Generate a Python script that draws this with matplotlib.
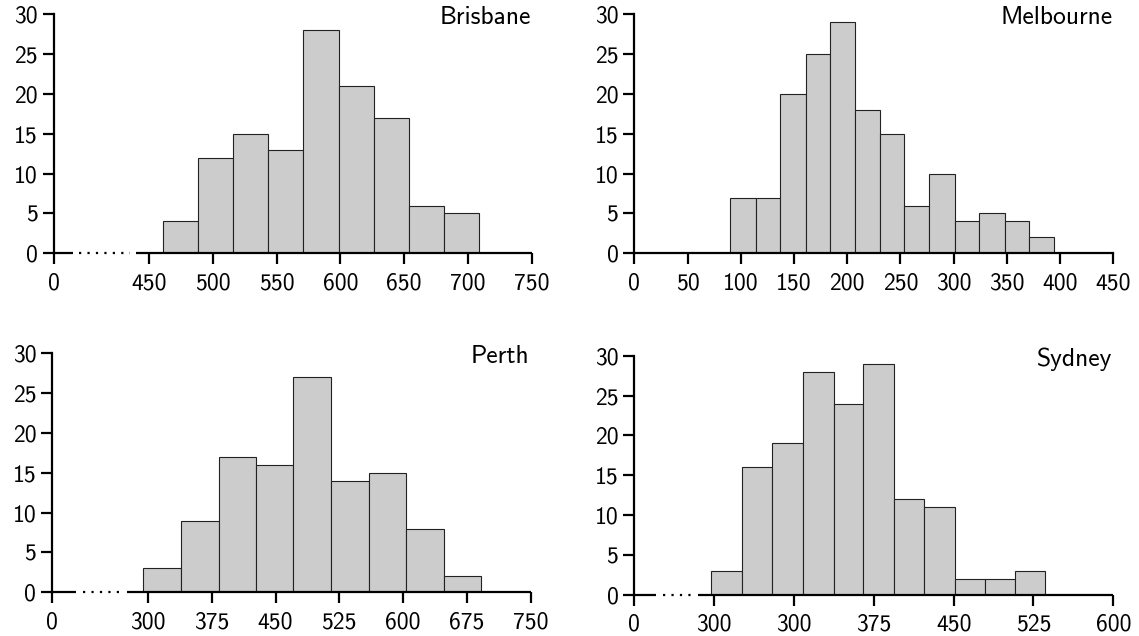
import matplotlib
matplotlib.use("Agg")
import matplotlib.pyplot as plt
import numpy as np

plt.rcParams['font.family'] = ['cmss10', 'DejaVu Sans']
plt.rcParams['axes.unicode_minus'] = False

# ---- data ----
brisbane_edges = [461.2, 488.1, 516.1, 543.3, 571.0, 598.5, 626.2, 653.4, 681.1, 708.3]
brisbane_counts = [4, 12, 15, 13, 28, 21, 17, 6, 5]
brisbane_ticks = [375, 450, 500, 550, 600, 650, 700, 750]
brisbane_labels = ['0', '450', '500', '550', '600', '650', '700', '750']

melbourne_edges = [90.1, 113.9, 136.8, 161.0, 183.5, 207.0, 230.9, 253.8, 277.0,
                   300.9, 323.7, 348.0, 370.8, 394.0]
melbourne_counts = [7, 7, 20, 25, 29, 18, 15, 6, 10, 4, 5, 4, 2]
melbourne_ticks = [0, 50, 100, 150, 200, 250, 300, 350, 400, 450]
melbourne_labels = ['0', '50', '100', '150', '200', '250', '300', '350', '400', '450']

perth_edges = [294.4, 339.2, 383.3, 426.9, 471.0, 515.0, 559.5, 603.6, 647.7, 691.8]
perth_counts = [3, 9, 17, 16, 27, 14, 15, 8, 2]
perth_ticks = [187.5, 300, 375, 450, 525, 600, 675, 750]
perth_labels = ['0', '300', '375', '450', '525', '600', '675', '750']

sydney_edges = [222.2, 250.8, 279.1, 308.2, 337.5, 364.8, 394.1, 422.1, 450.8,
                479.0, 508.0, 535.9]
sydney_counts = [3, 16, 19, 28, 24, 29, 12, 11, 2, 2, 3]
sydney_ticks = [150, 225, 300, 375, 450, 525, 600]
sydney_labels = ['0', '300', '300', '375', '450', '525', '600']

y_ticks = [0, 5, 10, 15, 20, 25, 30]

# ---- layout ----
W, H = 1139, 636
fig = plt.figure(figsize=(W / 100, H / 100), dpi=100)

def frac_rect(left, right, y0, y30):
    return [left / W, 1 - y0 / H, (right - left) / W, (y0 - y30) / H]

panels = [
    dict(name='Brisbane', edges=brisbane_edges, counts=brisbane_counts,
         ticks=brisbane_ticks, labels=brisbane_labels,
         rect=frac_rect(53.6, 531.7, 253.3, 14.3), brk=(0.041, 0.054, 0.160, 0.172)),
    dict(name='Melbourne', edges=melbourne_edges, counts=melbourne_counts,
         ticks=melbourne_ticks, labels=melbourne_labels,
         rect=frac_rect(634.4, 1113.3, 253.3, 14.3), brk=None),
    dict(name='Perth', edges=perth_edges, counts=perth_counts,
         ticks=perth_ticks, labels=perth_labels,
         rect=frac_rect(52.3, 530.7, 592.3, 353.3), brk=(0.0495, 0.065, 0.145, 0.1555)),
    dict(name='Sydney', edges=sydney_edges, counts=sydney_counts,
         ticks=sydney_ticks, labels=sydney_labels,
         rect=frac_rect(634.4, 1113.3, 595.0, 355.7), brk=(0.045, 0.059, 0.119, 0.132)),
]

LW = 1.6
for p in panels:
    ax = fig.add_axes(p['rect'])
    edges = np.array(p['edges'])
    ax.bar(edges[:-1], p['counts'], width=np.diff(edges), align='edge',
           color='#cccccc', edgecolor='#222222', linewidth=0.8, zorder=1)
    ax.set_xlim(p['ticks'][0], p['ticks'][-1])
    ax.set_ylim(0, 30)
    ax.set_xticks(p['ticks'])
    ax.set_xticklabels(p['labels'])
    ax.set_yticks(y_ticks)
    ax.set_yticklabels([str(v) for v in y_ticks])
    for s in ['top', 'right']:
        ax.spines[s].set_visible(False)
    ax.spines['left'].set_linewidth(LW)
    ax.spines['bottom'].set_linewidth(LW)
    ax.tick_params(axis='both', which='major', direction='out', length=8,
                   width=LW, labelsize=17, color='black')
    ax.tick_params(axis='x', pad=5.5)
    ax.tick_params(axis='y', pad=3.5)
    if p['brk'] is not None:
        a, b, c, d = p['brk']
        ax.spines['bottom'].set_visible(False)
        ax.plot([0, a], [0, 0], color='black', lw=LW, transform=ax.transAxes,
                clip_on=False, solid_capstyle='butt', zorder=3)
        ax.plot([b, c], [0, 0], color='black', lw=LW, transform=ax.transAxes,
                clip_on=False, linestyle=(0, (1, 2.8)), dash_capstyle='butt', zorder=3)
        ax.plot([d, 1], [0, 0], color='black', lw=LW, transform=ax.transAxes,
                clip_on=False, solid_capstyle='butt', zorder=3)
    ax.text(0.998, 0.958, p['name'], transform=ax.transAxes, ha='right',
            va='baseline', fontsize=18.4)

fig.savefig('out.png', dpi=100)
